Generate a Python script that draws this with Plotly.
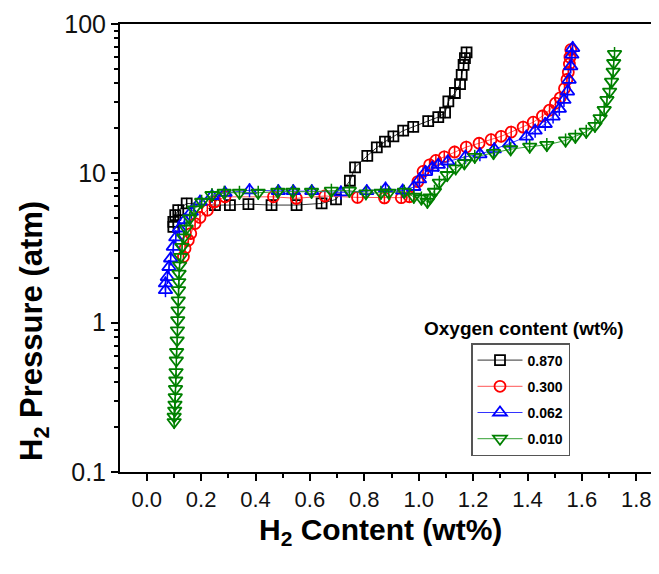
import plotly.graph_objects as go

# ---- data ----
labels = ["0.870", "0.300", "0.062", "0.010"]

x_0870 = [0.098, 0.098, 0.105, 0.116, 0.147, 0.251, 0.306, 0.374, 0.459, 0.551, 0.643, 0.696, 0.747, 0.766, 0.811,
          0.846, 0.876, 0.907, 0.943, 0.980, 1.035, 1.072, 1.097, 1.109, 1.133, 1.152, 1.158, 1.165, 1.170, 1.176]
y_0870 = [4.38, 4.73, 5.25, 5.67, 6.29, 6.13, 6.13, 6.22, 6.13, 6.13, 6.29, 6.69, 8.92, 10.97, 13.1,
          14.9, 16.3, 17.7, 19.3, 20.5, 22.4, 23.8, 25.5, 30.3, 34.5, 39.6, 45.7, 53.3, 59.1, 64.5]

x_0300 = [0.135, 0.141, 0.153, 0.162, 0.178, 0.196, 0.223, 0.251, 0.288, 0.466, 0.550, 0.655, 0.775, 0.874, 0.936,
          0.966, 0.997, 1.016, 1.040, 1.063, 1.094, 1.132, 1.175, 1.222, 1.266, 1.303, 1.340, 1.384, 1.421, 1.455,
          1.481, 1.503, 1.520, 1.536, 1.545, 1.550, 1.554, 1.556, 1.559]
y_0300 = [2.76, 3.14, 3.57, 3.95, 4.61, 5.07, 5.67, 6.45, 6.96, 6.96, 6.80, 7.05, 6.90, 6.85, 6.87,
          6.97, 8.8, 10.3, 11.4, 12.2, 12.9, 13.9, 15.0, 15.9, 16.8, 17.7, 18.9, 20.4, 22.0, 24.2,
          26.5, 29.5, 32.0, 37.0, 42.5, 47.5, 54.0, 60.0, 67.3]

x_0062 = [0.069, 0.069, 0.076, 0.082, 0.088, 0.098, 0.107, 0.120, 0.139, 0.164, 0.196, 0.240, 0.288, 0.378,
          0.484, 0.539, 0.607, 0.714, 0.809, 0.878, 0.941, 0.982, 1.003, 1.025, 1.050, 1.072, 1.107, 1.172,
          1.225, 1.278, 1.334, 1.396, 1.428, 1.465, 1.494, 1.517, 1.534, 1.547, 1.553, 1.559, 1.563, 1.566]
y_0062 = [1.65, 1.83, 2.02, 2.36, 2.69, 3.22, 3.72, 4.27, 4.86, 5.53, 6.45, 7.05, 7.4, 7.7,
          7.6, 7.6, 7.6, 7.45, 7.6, 7.9, 7.65, 8.1, 9.1, 10.2, 10.9, 11.4, 12.0, 12.9,
          13.4, 14.5, 15.8, 17.6, 19.3, 21.4, 24.0, 27.0, 31.0, 35.3, 42.3, 52.0, 62.3, 69.0]

x_0010 = [0.101, 0.101, 0.103, 0.104, 0.105, 0.106, 0.107, 0.108, 0.109, 0.110, 0.112, 0.113, 0.114, 0.115,
          0.116, 0.117, 0.118, 0.119, 0.121, 0.125, 0.130, 0.136, 0.145, 0.158, 0.174, 0.202, 0.240, 0.285,
          0.341, 0.410, 0.482, 0.537, 0.606, 0.679, 0.745, 0.806, 0.861, 0.890, 0.947, 0.982, 1.010, 1.032,
          1.042, 1.058, 1.076, 1.105, 1.136, 1.168, 1.206, 1.275, 1.338, 1.408, 1.471, 1.540, 1.576, 1.616,
          1.648, 1.667, 1.682, 1.692, 1.702, 1.709, 1.715, 1.717, 1.720]
y_0010 = [0.216, 0.235, 0.258, 0.283, 0.317, 0.36, 0.41, 0.467, 0.558, 0.636, 0.761, 0.889, 1.04, 1.21,
          1.41, 1.65, 1.87, 2.13, 2.42, 2.76, 3.22, 3.72, 4.27, 4.99, 5.73, 6.45, 7.16, 7.41,
          7.41, 7.41, 7.53, 7.53, 7.53, 7.65, 7.65, 7.35, 7.41, 7.41, 7.53, 6.97, 6.79, 6.45,
          6.9, 7.53, 8.66, 9.75, 10.8, 11.7, 12.9, 13.7, 14.5, 15.1, 15.5, 16.6, 17.6, 19.0,
          20.8, 23.4, 26.6, 31.0, 35.3, 41.1, 48.0, 54.8, 63.0]

series_x = [x_0870, x_0300, x_0062, x_0010]
series_y = [y_0870, y_0300, y_0062, y_0010]
colors = ["#000000", "#ff0000", "#0000ff", "#008000"]
line_colors = ["#333333", "#ff5555", "#3333ff", "#33a033"]
symbols = ["square-open", "circle-open", "triangle-up-open", "triangle-down-open"]
sizes = [10, 11, 12, 12]

# page body has an 8px default margin: work in window pixels, then offset
OFF = 8
W, H = 659 - OFF, 574 - OFF
L, R, T, B = 120 - OFF, 0, 24 - OFF, 102
pw, ph = W - L - R, H - T - B
X0_PX = 146.7 - OFF     # pixel (figure coords) of x = 0
PX_PER_UNIT = 272.0


def px_x(px):  # window pixel -> paper x
    return (px - OFF - L) / pw


def px_y(py):  # window pixel -> paper y
    return 1 - (py - OFF - T) / ph


fig = go.Figure()
for lab, xs, ys, c, lc, sym, sz in zip(labels, series_x, series_y, colors, line_colors, symbols, sizes):
    fig.add_trace(go.Scatter(
        x=xs, y=ys, mode="lines+markers", name="<b>" + lab + "</b>",
        legendgroup=lab,
        line=dict(color=lc, width=1),
        marker=dict(symbol=sym, size=sz, color=c, line=dict(color=c, width=1.8)),
    ))
    # vertical bar inside each open symbol (Origin style)
    fig.add_trace(go.Scatter(
        x=xs, y=ys, mode="markers", showlegend=False, legendgroup=lab, hoverinfo="skip",
        marker=dict(symbol="line-ns-open", size=sz - 2, color=c, line=dict(color=c, width=1.5)),
    ))

# legend title (outside the legend box)
fig.add_annotation(
    x=px_x(524), y=px_y(328), xref="paper", yref="paper", text="<b>Oxygen content (wt%)</b>",
    showarrow=False, font=dict(size=19, color="black"), xanchor="center", yanchor="middle",
)
# axis titles
fig.add_annotation(
    x=px_x(380), y=px_y(531), xref="paper", yref="paper", text="<b>H<sub>2</sub> Content (wt%)</b>",
    showarrow=False, font=dict(size=30, color="black"), xanchor="center", yanchor="middle",
)
fig.add_annotation(
    x=px_x(34), y=px_y(331), xref="paper", yref="paper", text="<b>H<sub>2</sub> Pressure (atm)</b>",
    showarrow=False, font=dict(size=31, color="black"), textangle=-90,
    xanchor="center", yanchor="middle",
)

fig.update_layout(
    width=W, height=H,
    margin=dict(l=L, r=R, t=T, b=B),
    paper_bgcolor="white", plot_bgcolor="white",
    font=dict(family="Arial, Liberation Sans, sans-serif", color="black"),
    legend=dict(
        x=px_x(471), y=px_y(343), xanchor="left", yanchor="top",
        bordercolor="#555555", borderwidth=1.5, bgcolor="rgba(255,255,255,0)",
        font=dict(size=14, color="black"), tracegroupgap=5, itemwidth=45,
    ),
)
fig.update_xaxes(
    range=[(L - X0_PX) / PX_PER_UNIT, (W - R - X0_PX) / PX_PER_UNIT],
    tick0=0, dtick=0.2, tickformat=".1f",
    ticks="outside", ticklen=7, tickwidth=2, tickcolor="black",
    minor=dict(dtick=0.1, ticks="outside", ticklen=4, tickwidth=2, tickcolor="black"),
    showline=True, linecolor="black", linewidth=2, mirror=True,
    showgrid=False, zeroline=False,
    tickfont=dict(size=22, color="#111111"),
)
fig.update_yaxes(
    type="log", range=[-1, 2], dtick=1,
    ticks="outside", ticklen=7, tickwidth=2, tickcolor="black",
    minor=dict(dtick="D1", ticks="outside", ticklen=4, tickwidth=2, tickcolor="black"),
    showline=True, linecolor="black", linewidth=2, mirror=False,
    showgrid=False, zeroline=False,
    tickfont=dict(size=25, color="#111111"),
)

fig.write_html("out.html")
